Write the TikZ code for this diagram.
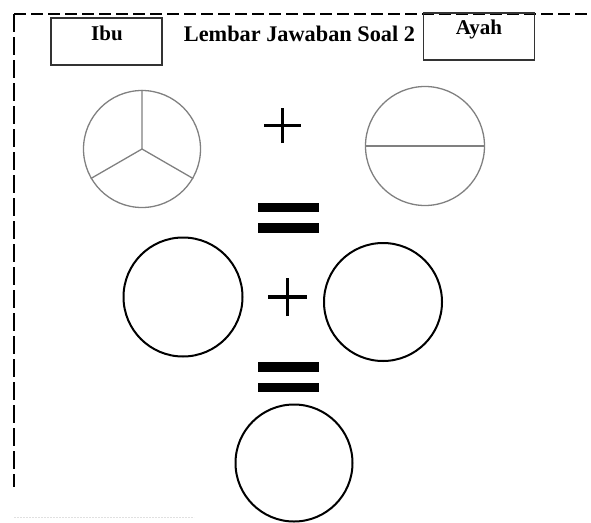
\documentclass[tikz,border=0pt]{standalone}
\usepackage{fontspec}
\setmainfont{Liberation Serif}
\tikzset{
  namebox/.style={draw=black!80, line width=1.3pt, minimum width=111pt, minimum height=47pt, inner sep=0pt},
  lbl/.style={font=\bfseries\fontsize{21}{24}\selectfont, inner sep=0pt, anchor=base},
  fracc/.style={circle, draw=black!50, line width=1.3pt, minimum size=117pt, inner sep=0pt},
  ansc/.style={circle, draw=black, line width=2pt, minimum size=119pt, inner sep=0pt},
  plusl/.style={line width=3.4pt, black},
  eqbar/.style={fill=black, draw=none, minimum width=61pt, minimum height=9.5pt, inner sep=0pt},
  frame/.style={line width=2.5pt, black}
}
\begin{document}
\begin{tikzpicture}[x=1pt, y=-1pt]
\useasboundingbox (0,0) rectangle (591,522);
% frame
\coordinate (tl) at (14,14);
\coordinate (tr) at (591,14);
\coordinate (bl) at (14,487);
\draw[frame, dash pattern=on 12pt off 5pt] (tl) -- (tr);
\draw[line width=2pt, dash pattern=on 18pt off 5pt] (tl) -- (bl);
\coordinate (f1) at (14,517);
\coordinate (f2) at (194,517);
\draw[black!12, line width=0.8pt, dash pattern=on 2pt off 1pt] (f1) -- (f2);
% boxes
\node[namebox] (ibubox) at (106.5,41.5) {};
\node[namebox] (ayahbox) at (479,36.5) {};
\node[lbl] (ibu) at (107,40) {Ibu};
\node[lbl] (ayah) at (479,34) {Ayah};
\node[lbl, font=\bfseries\fontsize{22.3}{26}\selectfont] (title) at (299.5,41) {Lembar Jawaban Soal 2};
% top row fractions
\node[fracc] (c3) at (142,149) {};
\draw[black!50, line width=1.3pt] (c3.center) -- (c3.90) (c3.center) -- (c3.210) (c3.center) -- (c3.330);
\node[fracc, minimum size=119pt] (c2) at (425,146) {};
\draw[black!50, line width=1.6pt] (c2.180) -- (c2.0);
% plus 1
\coordinate (p1) at (282.5,125.5);
\draw[plusl] ([xshift=-18.5pt]p1) -- ([xshift=18.5pt]p1);
\draw[plusl] ([yshift=-17.5pt]p1) -- ([yshift=17.5pt]p1);
% equals 1
\node[eqbar] (e1a) at (288.5,207.5) {};
\node[eqbar] (e1b) at (288.5,228) {};
% middle row
\node[ansc] (a1) at (183,297) {};
\node[ansc, minimum size=118pt] (a2) at (383,302) {};
\coordinate (p2) at (287.5,297);
\draw[plusl] ([xshift=-19.5pt]p2) -- ([xshift=19.5pt]p2);
\draw[plusl] ([yshift=-19pt]p2) -- ([yshift=19pt]p2);
% equals 2
\node[eqbar] (e2a) at (288.5,367) {};
\node[eqbar] (e2b) at (288.5,387.5) {};
% bottom
\node[ansc, minimum size=117pt] (a3) at (294,463) {};
\end{tikzpicture}
\end{document}
